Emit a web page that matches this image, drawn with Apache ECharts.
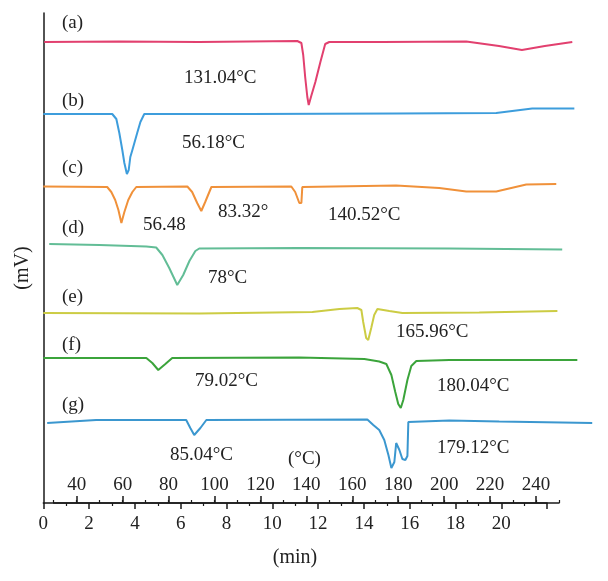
<!DOCTYPE html>
<html><head><meta charset="utf-8">
<script src="https://cdn.jsdelivr.net/npm/echarts@6/dist/echarts.min.js"></script>
<style>html,body{margin:0;padding:0;background:#fff}#c{width:608px;height:581px}</style>
</head><body><div id="c"></div>
<script>
// ---- data (time in min, signal in relative units; positive up) ----
var names = ['(a)','(b)','(c)','(d)','(e)','(f)','(g)'];
var colors = ['#e2406f','#3d9ddc','#f0913a','#62bd96','#cccc44','#3ba43b','#3b97cf'];
var offsets = [461, 389, 316.5, 259, 190, 145, 83];

var tA = [0.04,3.3,6.8,11.09,11.27,11.35,11.44,11.53,11.59,11.70,11.88,12.10,12.31,12.49,14.8,18.47,19.9,20.9,21.9,23.1];
var sA = [0,0.5,0,1,-1,-13,-36,-55,-63,-54,-40,-20,-2,0,0,0.5,-4,-8,-4,0];

var tB = [0,3.01,3.19,3.32,3.45,3.54,3.65,3.73,3.80,3.89,4.10,4.24,4.41,9.0,15.41,19.78,21.35,23.19];
var sB = [0,0,-5,-19,-36,-49,-60,-56,-43,-36,-19,-8,0,0,0.5,1,5.5,5.5];

var tC = [0,2.79,2.97,3.14,3.28,3.41,3.54,3.71,3.89,4.06,6.29,6.5,6.72,6.90,7.07,7.34,10.83,11.0,11.18,11.27,11.31,15.41,17.29,18.47,19.78,21.09,22.4];
var sC = [0,-0.5,-5.5,-13.5,-23.5,-36.5,-25.5,-13.5,-5.5,-0.5,0,-5.5,-16.5,-24.5,-15.5,-0.5,0,-5.5,-16.5,-16.5,-0.5,1,-1.5,-5,-5,2,2.5];

var tD = [0.26,2.45,4.50,4.93,5.20,5.50,5.85,6.11,6.38,6.64,6.81,11.18,17.73,22.66];
var sD = [0,-1,-2.5,-3.5,-11,-24,-41,-31,-17,-7,-4.5,-4,-4.5,-5.5];

var tE = [0,6.81,11.75,12.93,13.71,13.89,13.97,14.10,14.19,14.32,14.45,14.59,15.11,15.68,19.04,22.45];
var sE = [0,-0.5,1,4,5,3,-9,-25,-27,-15,-2,4,2,0,0.5,2];

var tF = [0,4.50,4.76,5.02,5.33,5.63,11.18,14.02,14.67,14.98,15.20,15.37,15.50,15.61,15.72,15.90,16.07,16.29,17.73,23.32];
var sF = [0,0,-5,-12,-6,0,0.5,-1,-3.5,-6,-17,-34,-46,-50,-42,-22,-8,-3,-2,-2];

var tG = [0.17,2.31,6.24,6.42,6.59,6.86,7.12,14.15,14.41,14.67,14.89,15.07,15.20,15.33,15.41,15.55,15.68,15.81,15.90,15.94,15.98,17.73,19.91,23.97];
var sG = [-3,0,0,-8,-15,-8,0,0.5,-5,-10,-20,-35,-48,-42,-23,-30,-39,-40,-36,-2,0,-0.5,-1.5,-3];

var times = [tA,tB,tC,tD,tE,tF,tG];
var signals = [sA,sB,sC,sD,sE,sF,sG];

var minTicks = [0,2,4,6,8,10,12,14,16,18,20];
var degTicks = [40,60,80,100,120,140,160,180,200,220,240];

var peakLabels = ['131.04°C','56.18°C','56.48','83.32°','140.52°C','78°C','165.96°C','79.02°C','180.04°C','85.04°C','179.12°C'];

// ---- chart ----
var FONT = 'Liberation Serif';
var FS = 19;
var chart = echarts.init(document.getElementById('c'), null, {renderer:'canvas'});

var series = times.map(function(t, i){
  return {
    type:'line', xAxisIndex:3, yAxisIndex:3, showSymbol:false, clip:false,
    silent:true, animation:false,
    lineStyle:{color:colors[i], width:2}, itemStyle:{color:colors[i]},
    data: t.map(function(x, k){ return [x, offsets[i] + signals[i][k]]; })
  };
});

function txt(s, x, y, size){
  return {type:'text', x:x, y:y, silent:true,
    style:{text:s, font:(size||FS) + 'px "' + FONT + '"', fill:'#222', align:'left', verticalAlign:'middle'}};
}

var labelPos = [[184,78],[182,143],[143,225],[218,212],[328,215],[208,278],[396,332],[195,381],[437,386],[170,455],[437,448]];
var namePos = [[62,23],[62,101],[62,168],[62,228],[62,297],[62,345],[62,405]];
var graphics = [];
names.forEach(function(n,i){ graphics.push(txt(n, namePos[i][0], namePos[i][1])); });
peakLabels.forEach(function(n,i){ graphics.push(txt(n, labelPos[i][0], labelPos[i][1])); });
graphics.push(txt('(°C)', 288, 459));
graphics.push({type:'text', x:295, y:558, silent:true,
  style:{text:'(min)', font:'20px "' + FONT + '"', fill:'#222', align:'center', verticalAlign:'middle'}});
graphics.push({type:'text', x:23, y:268, rotation:Math.PI/2, silent:true,
  style:{text:'(mV)', font:'20px "' + FONT + '"', fill:'#222', align:'center', verticalAlign:'middle'}});

var axisCol = '#1a1a1a';
var option = {
  animation:false,
  backgroundColor:'#fff',
  grid:[
    {left:43.3, right:60.9, top:13, bottom:78},
    {left:76.7, right:72, top:13, bottom:78},
    {left:53.7, right:49, top:13, bottom:78},
    {left:43.3, right:15.1, top:13, bottom:78}
  ],
  xAxis:[
    {gridIndex:0, type:'value', min:minTicks[0], max:22, interval:2,
     axisLine:{show:true, lineStyle:{color:axisCol, width:1.5}},
     axisTick:{show:true, inside:false, length:6, lineStyle:{color:axisCol, width:1.5}},
     minorTick:{show:true, splitNumber:2, length:3, lineStyle:{color:axisCol, width:1.2}},
     splitLine:{show:false},
     axisLabel:{fontFamily:FONT, fontSize:FS, color:'#222', margin:12,
       formatter:function(v){ return minTicks.indexOf(v) >= 0 ? String(v) : ''; }}},
    {gridIndex:1, type:'value', min:degTicks[0], max:degTicks[degTicks.length-1], interval:20,
     axisLine:{show:false},
     axisTick:{show:true, inside:true, length:7, lineStyle:{color:axisCol, width:1.5}},
     splitLine:{show:false},
     axisLabel:{inside:true, fontFamily:FONT, fontSize:FS, color:'#222', margin:8}},
    {gridIndex:2, type:'value', min:30, max:250, interval:10,
     axisLine:{show:true, lineStyle:{color:axisCol, width:1.5}},
     axisTick:{show:true, inside:true, length:3, lineStyle:{color:axisCol, width:1.2}},
     splitLine:{show:false}, axisLabel:{show:false}},
    {gridIndex:3, type:'value', min:0, max:24, show:false}
  ],
  yAxis:[
    {gridIndex:0, type:'value', min:0, max:490,
     axisLine:{show:true, lineStyle:{color:axisCol, width:1.5}},
     axisTick:{show:false}, axisLabel:{show:false}, splitLine:{show:false}},
    {gridIndex:1, type:'value', min:0, max:1, show:false},
    {gridIndex:2, type:'value', min:0, max:1, show:false},
    {gridIndex:3, type:'value', min:0, max:490, show:false}
  ],
  series: series,
  graphic: graphics
};
chart.setOption(option);
</script></body></html>
